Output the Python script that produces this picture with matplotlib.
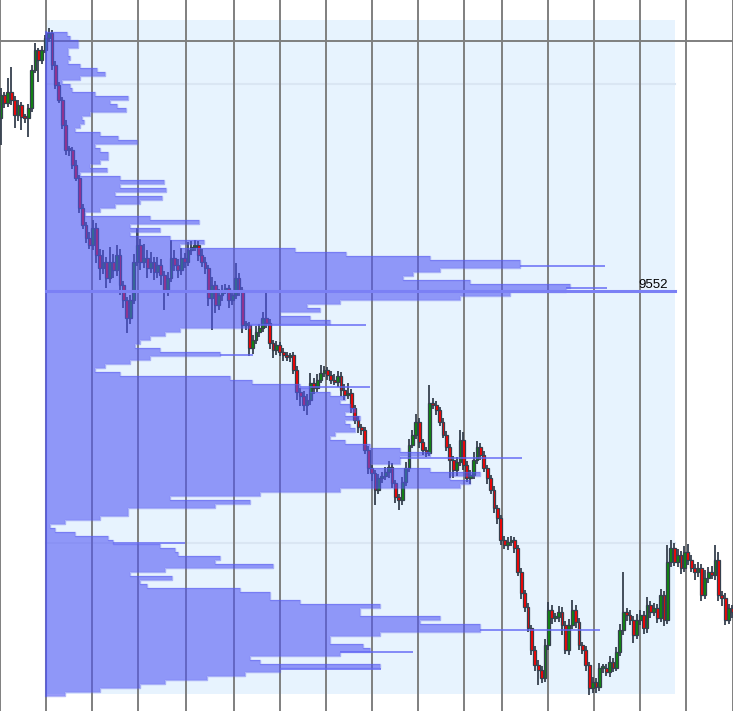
import matplotlib
matplotlib.use('Agg')
import matplotlib.pyplot as plt
import numpy as np
from matplotlib.patches import Rectangle

# ---------------- data ----------------
first_open = 9725
closes = [
    9748, 9740, 9751, 9743, 9728, 9738, 9726, 9725, 9735, 9773,
    9793, 9783, 9793, 9805, 9810, 9778, 9758, 9743, 9718, 9693,
    9693, 9678, 9665, 9635, 9618, 9605, 9598, 9615, 9588, 9575,
    9581, 9565, 9581, 9573, 9588, 9558, 9543, 9525, 9543, 9581,
    9598, 9581, 9585, 9575, 9581, 9571, 9578, 9568, 9553, 9565,
    9585, 9578, 9573, 9585, 9581, 9593, 9596, 9598, 9588, 9581,
    9575, 9545, 9558, 9538, 9548, 9553, 9555, 9543, 9548, 9565,
    9553, 9518, 9518, 9495, 9503, 9511, 9515, 9525, 9520, 9500,
    9493, 9498, 9491, 9488, 9486, 9488, 9473, 9451, 9447, 9438,
    9443, 9460, 9455, 9463, 9470, 9473, 9468, 9463, 9461, 9467,
    9453, 9448, 9450, 9435, 9423, 9416, 9413, 9393, 9375, 9370,
    9353, 9365, 9367, 9371, 9376, 9360, 9346, 9343, 9361, 9375,
    9398, 9408, 9421, 9401, 9393, 9390, 9440, 9438, 9433, 9421,
    9408, 9396, 9383, 9373, 9381, 9403, 9378, 9365, 9368, 9383,
    9396, 9388, 9375, 9365, 9353, 9335, 9325, 9303, 9298, 9301,
    9303, 9295, 9271, 9250, 9236, 9215, 9193, 9178, 9173, 9165,
    9198, 9233, 9225, 9226, 9231, 9218, 9193, 9218, 9233, 9221,
    9198, 9193, 9178, 9155, 9161, 9156, 9175, 9175, 9171, 9181,
    9175, 9191, 9213, 9231, 9228, 9223, 9208, 9223, 9228, 9215,
    9238, 9231, 9235, 9225, 9248, 9223, 9281, 9295, 9281, 9288,
    9275, 9291, 9283, 9275, 9271, 9275, 9248, 9265, 9271, 9268,
    9283, 9248, 9245, 9223, 9235, 9231,
]
upper_wick = [
    7, 3, 14, 25, 4, 5, 3, 3, 4, 5,
    7, 2, 4, 3, 5, 3, 4, 3, 3, 5,
    4, 3, 5, 3, 4, 3, 6, 8, 5, 6,
    12, 5, 15, 8, 10, 6, 4, 3, 5, 8,
    17, 6, 14, 8, 10, 5, 8, 6, 4, 6,
    18, 8, 6, 10, 5, 8, 6, 5, 4, 6,
    5, 3, 8, 4, 6, 5, 4, 3, 4, 15,
    5, 3, 4, 3, 5, 6, 4, 6, 25, 4,
    3, 4, 3, 4, 3, 2, 3, 4, 4, 5,
    6, 10, 5, 6, 8, 4, 3, 4, 6, 5,
    4, 6, 10, 4, 3, 4, 3, 3, 4, 3,
    3, 4, 4, 5, 6, 4, 3, 3, 5, 6,
    6, 5, 8, 4, 3, 3, 18, 5, 4, 3,
    4, 4, 3, 4, 5, 10, 8, 4, 5, 8,
    6, 4, 4, 3, 3, 4, 3, 3, 4, 5,
    4, 3, 3, 4, 3, 4, 3, 4, 5, 4,
    6, 8, 5, 4, 6, 5, 4, 6, 10, 5,
    4, 3, 4, 3, 5, 4, 5, 4, 4, 6,
    4, 5, 6, 40, 4, 5, 4, 6, 5, 4,
    8, 4, 5, 4, 6, 4, 17, 8, 5, 6,
    4, 6, 8, 5, 4, 6, 4, 8, 5, 6,
    15, 8, 4, 5, 4, 3,
]
lower_wick = [
    27, 5, 4, 5, 13, 6, 13, 5, 19, 4,
    3, 22, 4, 3, 4, 5, 4, 3, 4, 5,
    6, 4, 3, 5, 4, 5, 4, 5, 8, 12,
    6, 10, 5, 8, 6, 10, 8, 15, 6, 4,
    4, 8, 6, 10, 5, 8, 6, 10, 20, 6,
    4, 6, 8, 5, 6, 4, 5, 4, 6, 5,
    6, 8, 32, 8, 5, 6, 4, 8, 5, 4,
    6, 8, 5, 8, 6, 4, 5, 4, 5, 6,
    8, 5, 4, 6, 4, 5, 4, 8, 10, 6,
    10, 5, 6, 4, 3, 4, 5, 4, 3, 5,
    6, 5, 4, 5, 4, 6, 5, 4, 6, 8,
    15, 4, 5, 4, 6, 5, 6, 10, 5, 4,
    4, 3, 4, 6, 5, 4, 3, 4, 5, 4,
    3, 4, 18, 8, 6, 4, 5, 4, 6, 4,
    4, 5, 4, 6, 4, 5, 6, 5, 4, 5,
    4, 5, 4, 6, 5, 4, 5, 6, 15, 5,
    4, 5, 6, 4, 5, 10, 4, 5, 4, 6,
    5, 4, 6, 7, 5, 6, 4, 5, 4, 5,
    4, 3, 4, 5, 6, 5, 8, 4, 5, 6,
    5, 6, 4, 5, 4, 6, 4, 5, 4, 5,
    6, 4, 5, 4, 8, 5, 6, 4, 5, 4,
    5, 6, 8, 5, 4, 6,
]

# session separators (bar index) and the horizontal grid level
session_lines = [-0.15, 13.32, 26.85, 40.38, 54.5, 68.6, 82.15, 95.68, 109.2,
                 122.74, 136.26, 147.44, 160.97, 174.5, 188.03, 201.56, 215.15]
price_grid = [9802]

# volume profile: levels from the top (9809) downward, 4 points per level
profile_top = 9809
profile_step = 4
profile_vol = [
    21, 24, 32, 32, 22, 22, 24, 22, 34, 51,
    59, 34, 16, 24, 26, 49, 82, 64, 71, 80,
    44, 36, 38, 34, 29, 54, 72, 91, 49, 54,
    62, 62, 54, 44, 61, 34, 74, 118, 74, 120,
    69, 116, 94, 69, 54, 39, 104, 153, 84, 114,
    84, 124, 158, 134, 249, 300, 384, 474, 474, 394,
    367, 357, 424, 524, 520, 464, 414, 294, 261, 274,
    234, 264, 284, 204, 134, 119, 104, 94, 89, 114,
    174, 104, 84, 59, 49, 74, 184, 206, 254, 264,
    284, 299, 294, 304, 309, 299, 314, 299, 304, 309,
    289, 284, 299, 324, 354, 384, 354, 354, 324, 384,
    434, 404, 424, 414, 294, 214, 124, 204, 169, 82,
    82, 54, 19, 4, 9, 29, 62, 67, 114, 129,
    132, 174, 169, 227, 119, 84, 126, 94, 101, 194,
    224, 224, 254, 334, 314, 314, 394, 374, 434, 434,
    334, 284, 284, 317, 324, 294, 204, 214, 334, 234,
    199, 161, 119, 94, 54, 19,
]
# single-price spikes of the profile
spike_price = [9577, 9555, 9518, 9488, 9456, 9385, 9300, 9213, 9191, 9174]
spike_vol = [559, 561, 320, 207, 324, 476, 139, 554, 367, 335]

poc_price = 9552
va_high = 9759
va_low = 9300
profile_range = (9149, 9823)
profile_len = 629

# ---------------- figure ----------------
fig = plt.figure(figsize=(7.33, 7.11), dpi=100)
ax = fig.add_axes([0, 0, 1, 1])
ax2 = fig.add_axes([0, 0, 1, 1], sharey=ax)

for s in ax.spines.values():
    s.set_visible(False)
ax.set_xticks(session_lines)
ax.set_yticks(price_grid)
ax.tick_params(length=0, labelbottom=False, labelleft=False)
ax.grid(True, color='#7f7f7f', linewidth=1.4)
ax.set_axisbelow(True)

# profile background
bg = Rectangle((0, profile_range[0]), profile_len, profile_range[1] - profile_range[0],
               transform=ax2.transData, facecolor='#e7f3fe', edgecolor='none', zorder=0.1)
ax.add_patch(bg)
for lvl in (va_high, va_low):
    ax.plot([0, profile_len], [lvl, lvl], transform=ax2.transData,
            color='#dae6f3', lw=1.5, zorder=0.2)

# candles
closes_a = np.array(closes, dtype=float)
opens_a = np.concatenate([[first_open], closes_a[:-1]])
highs_a = np.maximum(opens_a, closes_a) + np.array(upper_wick)
lows_a = np.minimum(opens_a, closes_a) - np.array(lower_wick)
idx = np.arange(len(closes_a))
up = closes_a >= opens_a
edge = '#36404e'
ax.vlines(idx, lows_a, highs_a, color=edge, lw=1.3, zorder=2)
bottoms = np.minimum(opens_a, closes_a)
heights = np.maximum(np.abs(closes_a - opens_a), 2.0)
colors = np.where(up, '#0e8a0e', '#ff0000')
ax.bar(idx, heights, bottom=bottoms, width=0.78, color=colors,
       edgecolor=edge, linewidth=0.9, zorder=3)

# volume profile (step shape)
vols = np.array(profile_vol, dtype=float)[::-1]
n = len(vols)
edges_p = profile_top - profile_step * (n - 1) - profile_step / 2 + profile_step * np.arange(n + 1)
ax2.stairs(vols, edges_p, orientation='horizontal', baseline=0, fill=True,
           color=(80/255, 85/255, 245/255, 0.58), zorder=3)
ax2.stairs(vols, edges_p, orientation='horizontal', baseline=0, fill=False,
           color=(90/255, 95/255, 240/255, 0.45), linewidth=1.0, zorder=3.5)

# spikes start where the block ends at that price
sp = np.array(spike_price, dtype=float)
block_at = np.array([vols[min(max(np.searchsorted(edges_p, p) - 1, 0), n - 1)] for p in sp])
sv = np.array(spike_vol, dtype=float)
ax2.barh(sp, np.maximum(sv - block_at, 0), height=2.0, left=block_at,
         color=(95/255, 100/255, 245/255, 0.72), linewidth=0, zorder=4)
ax2.plot([0, 0], [edges_p[0], edges_p[-1]], color=(80/255, 85/255, 240/255, 0.6), lw=1.5, zorder=4)
ax2.plot([0, profile_len], [poc_price, poc_price], color='#7b80f5', lw=2.2, zorder=5)
ax2.text(profile_len - 7, poc_price + 2.5, str(poc_price), ha='right', va='baseline',
         fontsize=9.5, family=['Liberation Sans', 'DejaVu Sans'], color='black', zorder=6)

ax2.patch.set_alpha(0)
ax2.axis('off')
ax2.set_xlim(-46, 687)
ax.set_xlim(-0.294, 215.29)
ax.set_ylim(9132, 9843)

fig.savefig('out.png', dpi=100)
